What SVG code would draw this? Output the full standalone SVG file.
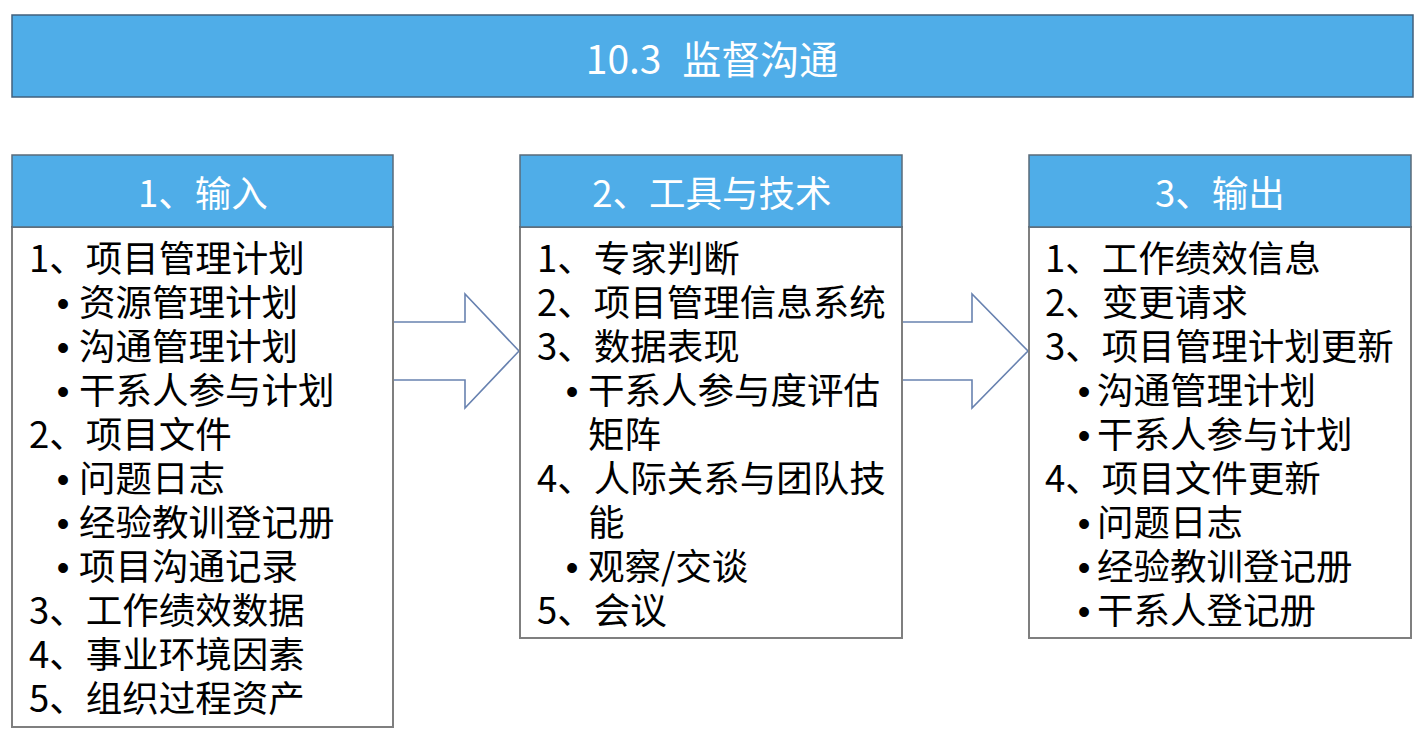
<svg xmlns="http://www.w3.org/2000/svg" width="1426" height="744" viewBox="0 0 1426 744">
<defs>
<style>
.hdr{fill:#4FADE8;stroke:#5A6B7A;stroke-width:1.5}
.box{fill:#FFFFFF;stroke:#7F7F7F;stroke-width:2}
.ht{font-family:"Noto Sans CJK SC","Noto Sans",sans-serif;font-size:36.5px;fill:#FFFFFF;text-anchor:middle}
.tt{font-family:"Noto Sans CJK SC","Noto Sans",sans-serif;font-size:39px;fill:#FFFFFF;text-anchor:middle}
.bt{font-family:"Noto Sans CJK SC","Noto Sans",sans-serif;font-size:36.5px;fill:#000000}
.bu{font-family:"Liberation Sans",Arial,sans-serif;font-size:36px;fill:#000000;text-anchor:middle}
.arr{fill:#FFFFFF;stroke:#6882B0;stroke-width:1.6}
</style>
</defs>
<rect width="1426" height="744" fill="#FFFFFF"/>
<g id="title">
<rect x="12" y="15" width="1401" height="82" fill="#4FADE8" stroke="#41607C" stroke-width="1.5"/>
<text class="tt" x="712" y="74" word-spacing="12">10.3 监督沟通</text>
</g>
<g id="connectors">
<path class="arr" d="M393,322 H465 V294 L519,351 L465,408 V380 H393"/>
<path class="arr" d="M902,322 H972 V294 L1028,351 L972,408 V380 H902"/>
</g>
<g id="input">
<rect class="box" x="12" y="227" width="381" height="500"/>
<rect class="hdr" x="12" y="155" width="381" height="72"/>
<text class="ht" x="203" y="207">1、输入</text>
<text class="bt" x="29" y="272">1、项目管理计划</text>
<text class="bu" x="63" y="316">•</text><text class="bt" x="79" y="316">资源管理计划</text>
<text class="bu" x="63" y="360">•</text><text class="bt" x="79" y="360">沟通管理计划</text>
<text class="bu" x="63" y="404">•</text><text class="bt" x="79" y="404">干系人参与计划</text>
<text class="bt" x="29" y="448">2、项目文件</text>
<text class="bu" x="63" y="492">•</text><text class="bt" x="79" y="492">问题日志</text>
<text class="bu" x="63" y="536">•</text><text class="bt" x="79" y="536">经验教训登记册</text>
<text class="bu" x="63" y="580">•</text><text class="bt" x="79" y="580">项目沟通记录</text>
<text class="bt" x="29" y="624">3、工作绩效数据</text>
<text class="bt" x="29" y="668">4、事业环境因素</text>
<text class="bt" x="29" y="712">5、组织过程资产</text>
</g>
<g id="tools">
<rect class="box" x="520" y="227" width="382" height="411"/>
<rect class="hdr" x="520" y="155" width="382" height="72"/>
<text class="ht" x="712" y="207">2、工具与技术</text>
<text class="bt" x="537" y="272">1、专家判断</text>
<text class="bt" x="537" y="316">2、项目管理信息系统</text>
<text class="bt" x="537" y="360">3、数据表现</text>
<text class="bu" x="572" y="404">•</text><text class="bt" x="588" y="404">干系人参与度评估</text>
<text class="bt" x="588" y="448">矩阵</text>
<text class="bt" x="537" y="492">4、人际关系与团队技</text>
<text class="bt" x="588" y="536">能</text>
<text class="bu" x="572" y="580">•</text><text class="bt" x="588" y="580">观察/交谈</text>
<text class="bt" x="537" y="624">5、会议</text>
</g>
<g id="output">
<rect class="box" x="1029" y="227" width="382" height="411"/>
<rect class="hdr" x="1029" y="155" width="382" height="72"/>
<text class="ht" x="1220" y="207">3、输出</text>
<text class="bt" x="1045" y="272">1、工作绩效信息</text>
<text class="bt" x="1045" y="316">2、变更请求</text>
<text class="bt" x="1045" y="360">3、项目管理计划更新</text>
<text class="bu" x="1084" y="404">•</text><text class="bt" x="1097" y="404">沟通管理计划</text>
<text class="bu" x="1084" y="448">•</text><text class="bt" x="1097" y="448">干系人参与计划</text>
<text class="bt" x="1045" y="492">4、项目文件更新</text>
<text class="bu" x="1084" y="536">•</text><text class="bt" x="1097" y="536">问题日志</text>
<text class="bu" x="1084" y="580">•</text><text class="bt" x="1097" y="580">经验教训登记册</text>
<text class="bu" x="1084" y="624">•</text><text class="bt" x="1097" y="624">干系人登记册</text>
</g>
</svg>
